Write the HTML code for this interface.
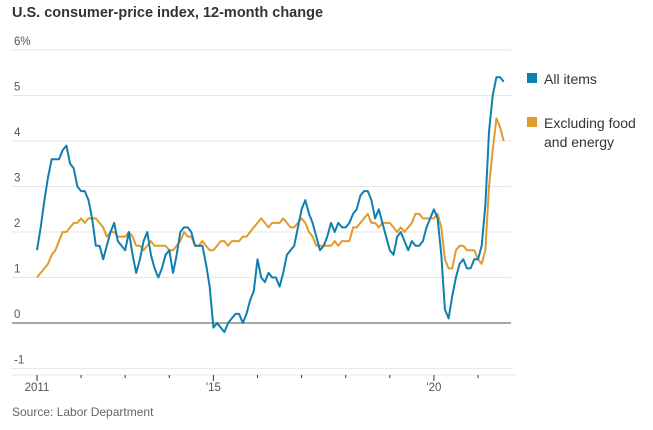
<!DOCTYPE html>
<html><head><meta charset="utf-8"><style>
body{margin:0;background:#fff;width:653px;height:425px;overflow:hidden;font-family:"Liberation Sans",sans-serif}
</style></head><body>
<svg id="chart" width="653" height="425" xmlns="http://www.w3.org/2000/svg">
<text x="12" y="17" font-size="14.5" font-weight="bold" fill="#333">U.S. consumer-price index, 12-month change</text>
<g id="grid"></g><g id="xaxis"></g><g id="lines"></g>
<g>
<rect x="527" y="73" width="10" height="10" fill="#0f7fb0"/>
<text x="544" y="84" font-size="14" fill="#333">All items</text>
<rect x="527" y="117" width="10" height="10" fill="#e09b2d"/>
<text x="544" y="128" font-size="14" fill="#333">Excluding food</text>
<text x="544" y="147" font-size="14" fill="#333">and energy</text>
</g>
<text x="12" y="416" font-size="12" fill="#666">Source: Labor Department</text>
</svg>
<script>
const yTicks=[6,5,4,3,2,1,0,-1];
const yTickLabels=["6%","5","4","3","2","1","0","-1"];
const xTickYears=[2011,2012,2013,2014,2015,2016,2017,2018,2019,2020,2021];
const xTickLabels={2011:"2011",2015:"'15",2020:"'20"};
const allItems=[1.6,2.1,2.7,3.2,3.6,3.6,3.6,3.8,3.9,3.5,3.4,3.0,
2.9,2.9,2.7,2.3,1.7,1.7,1.4,1.7,2.0,2.2,1.8,1.7,
1.6,2.0,1.5,1.1,1.4,1.8,2.0,1.5,1.2,1.0,1.2,1.5,
1.6,1.1,1.5,2.0,2.1,2.1,2.0,1.7,1.7,1.7,1.3,0.8,
-0.1,0.0,-0.1,-0.2,0.0,0.1,0.2,0.2,0.0,0.2,0.5,0.7,
1.4,1.0,0.9,1.1,1.0,1.0,0.8,1.1,1.5,1.6,1.7,2.1,
2.5,2.7,2.4,2.2,1.9,1.6,1.7,1.9,2.2,2.0,2.2,2.1,
2.1,2.2,2.4,2.5,2.8,2.9,2.9,2.7,2.3,2.5,2.2,1.9,
1.6,1.5,1.9,2.0,1.8,1.6,1.8,1.7,1.7,1.8,2.1,2.3,
2.5,2.3,1.5,0.3,0.1,0.6,1.0,1.3,1.4,1.2,1.2,1.4,
1.4,1.7,2.6,4.2,5.0,5.4,5.4,5.3];
const coreItems=[1.0,1.1,1.2,1.3,1.5,1.6,1.8,2.0,2.0,2.1,2.2,2.2,
2.3,2.2,2.3,2.3,2.3,2.2,2.1,1.9,2.0,2.0,1.9,1.9,
1.9,2.0,1.9,1.7,1.7,1.6,1.7,1.8,1.7,1.7,1.7,1.7,
1.6,1.6,1.7,1.8,2.0,1.9,1.9,1.7,1.7,1.8,1.7,1.6,
1.6,1.7,1.8,1.8,1.7,1.8,1.8,1.8,1.9,1.9,2.0,2.1,
2.2,2.3,2.2,2.1,2.2,2.2,2.2,2.3,2.2,2.1,2.1,2.2,
2.3,2.2,2.0,1.9,1.7,1.7,1.7,1.7,1.7,1.8,1.7,1.8,
1.8,1.8,2.1,2.1,2.2,2.3,2.4,2.2,2.2,2.1,2.2,2.2,
2.2,2.1,2.0,2.1,2.0,2.1,2.2,2.4,2.4,2.3,2.3,2.3,
2.3,2.4,2.1,1.4,1.2,1.2,1.6,1.7,1.7,1.6,1.6,1.6,
1.4,1.3,1.6,3.0,3.8,4.5,4.3,4.0];
const NS='http://www.w3.org/2000/svg';
const y=v=>323-v*45.5;
const xYear=yr=>37+(yr-2011)*44.1;
const xIdx=i=>xYear(2011+i/12);
const grid=document.getElementById('grid');
yTicks.forEach((v,k)=>{
  const l=document.createElementNS(NS,'line');
  
  
  l.setAttribute('x1',12);l.setAttribute('x2',511);l.setAttribute('y1',y(v));l.setAttribute('y2',y(v));
  l.setAttribute('stroke',v===0?'#888':'#e6e6e6');l.setAttribute('stroke-width',v===0?1.5:1);
  grid.appendChild(l);
  const t=document.createElementNS(NS,'text');
  
  
  t.setAttribute('x',14);t.setAttribute('y',y(v)-5);t.setAttribute('font-size','11.5');t.setAttribute('fill','#555');
  t.textContent=yTickLabels[k];grid.appendChild(t);
});
const xa=document.getElementById('xaxis');
const base=document.createElementNS(NS,'line');


base.setAttribute('x1',12);base.setAttribute('x2',517);base.setAttribute('y1',375);base.setAttribute('y2',375);
base.setAttribute('stroke','#e6e6e6');xa.appendChild(base);
xTickYears.forEach(yr=>{
  const l=document.createElementNS(NS,'line');
  
  
  const big=!!xTickLabels[yr];
  l.setAttribute('x1',xYear(yr));l.setAttribute('x2',xYear(yr));l.setAttribute('y1',375);l.setAttribute('y2',big?381:378);
  l.setAttribute('stroke','#333');xa.appendChild(l);
  if(big){const t=document.createElementNS(NS,'text');
  
  
  t.setAttribute('x',xYear(yr));t.setAttribute('y',391);t.setAttribute('font-size','11.5');t.setAttribute('fill','#555');t.setAttribute('text-anchor','middle');
  t.textContent=xTickLabels[yr];xa.appendChild(t);}
});
const lines=document.getElementById('lines');
function draw(arr,color,name){
  const p=document.createElementNS(NS,'path');
  
  
  p.setAttribute('d',arr.map((v,i)=>(i?'L':'M')+xIdx(i).toFixed(1)+','+y(v).toFixed(1)).join(''));
  p.setAttribute('fill','none');p.setAttribute('stroke',color);p.setAttribute('stroke-width','2');p.setAttribute('stroke-linejoin','round');
  lines.appendChild(p);
}
draw(coreItems,'#e09b2d','core-line');
draw(allItems,'#0f7fb0','all-items-line');
</script>
</body></html>
